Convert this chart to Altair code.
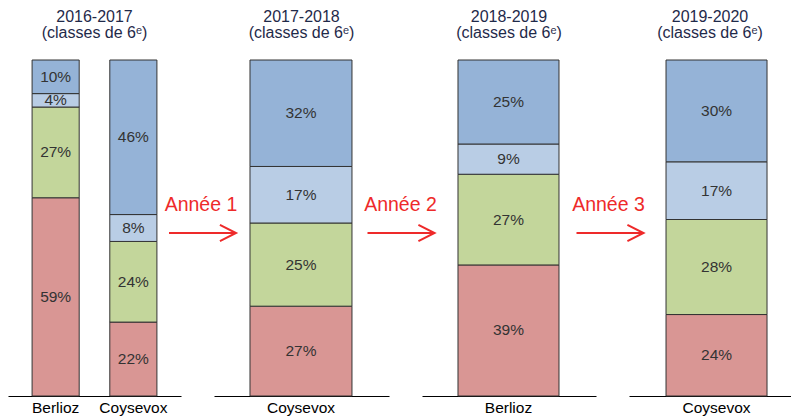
import altair as alt
import pandas as pd

# Categories, bottom to top of each stacked bar
categories = ["Catégorie A", "Catégorie B", "Catégorie C", "Catégorie D"]
colors = ["#d99694", "#c3d69b", "#b9cde5", "#95b3d7"]

years = ["2016-2017", "2017-2018", "2018-2019", "2019-2020"]
subtitle = "(classes de 6ᵉ)"

panel_schools = [["Berlioz", "Coysevox"], ["Coysevox"], ["Berlioz"], ["Coysevox"]]

# percentages bottom -> top
berlioz_2016 = [59, 27, 4, 10]
coysevox_2016 = [22, 24, 8, 46]
coysevox_2017 = [27, 25, 17, 32]
berlioz_2018 = [39, 27, 9, 25]
coysevox_2019 = [24, 28, 17, 30]

panel_values = [
    [berlioz_2016, coysevox_2016],
    [coysevox_2017],
    [berlioz_2018],
    [coysevox_2019],
]

arrow_labels = ["Année 1", "Année 2", "Année 3"]

# layout (style) settings per panel
panel_width = [173, 175, 174, 162]
band_pad = [  # paddingInner, paddingOuter, align
    (0.394, 0.31, 0.5),
    (0.0, 0.358, 0.493),
    (0.0, 0.3614, 0.493),
    (0.0, 0.302, 0.607),
]
arrow_text_x = [-13, -21.5, -20.5]
arrow_x = [-11.5, -21, -19]

FONT = "Liberation Sans, Arial, Helvetica, sans-serif"
RED = "#ee2a2a"
ARROW_SHAPE = "M-1,0L1,0M0.52,-0.24L1,0L0.52,0.24"

H = 336


def panel(i):
    rows = []
    for s, vals in zip(panel_schools[i], panel_values[i]):
        for k, (c, v) in enumerate(zip(categories, vals)):
            rows.append(dict(school=s, cat=c, order=k, value=v, label=f"{v}%"))
    df = pd.DataFrame(rows)
    pi, po, al = band_pad[i]
    xscale = alt.Scale(domain=panel_schools[i], paddingInner=pi, paddingOuter=po, align=al)
    yscale = alt.Scale(domain=[0, 1])
    base = alt.Chart(df).transform_stack(
        stack="value",
        groupby=["school"],
        as_=["y0", "y1"],
        sort=[alt.SortField("order", order="ascending")],
        offset="normalize",
    ).transform_calculate(mid="(datum.y0 + datum.y1) / 2")

    bars = base.mark_bar(stroke="#333333", strokeWidth=1).encode(
        x=alt.X(
            "school:N",
            scale=xscale,
            axis=alt.Axis(
                title=None,
                labelAngle=0,
                ticks=False,
                domainColor="#000000",
                domainWidth=1,
                labelFontSize=15.5,
                labelFont=FONT,
                labelColor="#000000",
                labelPadding=4,
            ),
        ),
        y=alt.Y("y0:Q", scale=yscale, axis=None),
        y2="y1:Q",
        color=alt.Color("cat:N", scale=alt.Scale(domain=categories, range=colors), legend=None),
    )
    text = base.mark_text(fontSize=15.5, font=FONT, color="#333333").encode(
        x=alt.X("school:N", scale=xscale),
        y=alt.Y("mid:Q", scale=yscale, axis=None),
        text="label:N",
    )
    layers = [bars, text]
    if i > 0:
        adf = pd.DataFrame({"label": [arrow_labels[i - 1]]})
        layers.append(
            alt.Chart(adf).mark_text(fontSize=19.5, font=FONT, color=RED).encode(
                x=alt.value(arrow_text_x[i - 1]), y=alt.value(145), text="label:N"
            )
        )
        layers.append(
            alt.Chart(adf).mark_point(
                shape=ARROW_SHAPE, filled=False, stroke=RED, strokeWidth=2,
                size=4489, opacity=1,
            ).encode(x=alt.value(arrow_x[i - 1]), y=alt.value(173))
        )
    return alt.layer(*layers).properties(
        width=panel_width[i],
        height=H,
        title=alt.TitleParams(
            text=years[i],
            subtitle=subtitle,
            fontSize=16,
            subtitleFontSize=16,
            font=FONT,
            subtitleFont=FONT,
            fontWeight="normal",
            color="#1f2a4a",
            subtitleColor="#1f2a4a",
            subtitlePadding=0,
            offset=19,
            anchor="middle",
        ),
    )


chart = alt.hconcat(*[panel(i) for i in range(4)], spacing=33, bounds="flush").properties(
    padding={"left": 0, "top": 0, "right": 0, "bottom": 0}
).configure_view(stroke=None)

chart.save("out.html", embed_options={"renderer": "svg", "actions": False})
